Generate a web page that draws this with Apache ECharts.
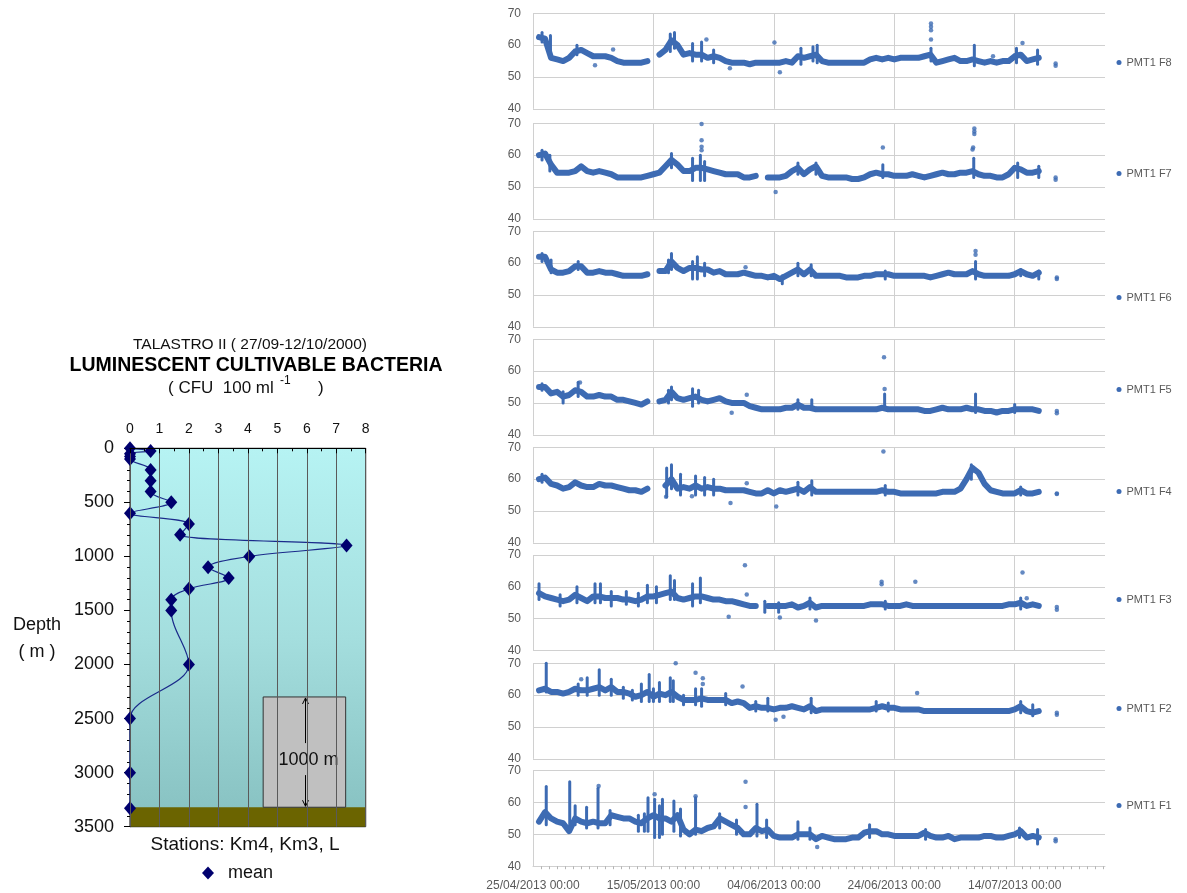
<!DOCTYPE html>
<html><head><meta charset="utf-8">
<script src="https://cdn.jsdelivr.net/npm/echarts@6/dist/echarts.min.js"></script>
<style>html,body{margin:0;padding:0;background:#fff}#c{width:1187px;height:893px}</style>
</head><body><div id="c"></div>
<script>
// ---------- Left chart: luminescent cultivable bacteria profile ----------
const depth = [0, 25, 50, 75, 100, 200, 300, 400, 500, 600, 700, 800, 900, 1000, 1100, 1200, 1300, 1400, 1500, 2000, 2500, 3000, 3330];
const cfu   = [0, 0.7, 0, 0, 0, 0.7, 0.7, 0.7, 1.4, 0, 2.0, 1.7, 7.35, 4.05, 2.65, 3.35, 2.0, 1.4, 1.4, 2.0, 0, 0, 0];
const seabed = [3320, 3500];              // depth range of sea floor band
const scaleBox = [4.52, 7.32, 2300, 3320]; // x0, x1, depthTop, depthBottom of the 1000 m scale box
const scaleLabel = '1000 m';

// ---------- Right chart: PMT1 F1..F8 daily values (index = day since 25/04/2013) ----------
const dateLabels = ['25/04/2013 00:00', '15/05/2013 00:00', '04/06/2013 00:00', '24/06/2013 00:00', '14/07/2013 00:00'];
const seriesNames = ['PMT1 F8', 'PMT1 F7', 'PMT1 F6', 'PMT1 F5', 'PMT1 F4', 'PMT1 F3', 'PMT1 F2', 'PMT1 F1'];

const f8 = [null,62.5,62,56,55.5,55,56,58,58.5,57.5,
 56.5,56.5,56.5,56,55,54.5,54.5,54.5,54.5,55,
 null,57,58.5,61.5,60,57,57.5,57,57,56,
 56.5,56,55,54.5,54.5,54.5,54,54.5,54.5,54.5,
 54.5,54.5,55,54.5,56.5,56,56.5,57,55,54.5,
 54.5,54.5,54.5,54.5,54.5,54.5,55.5,56,55.5,56,
 55.5,56,56,56,56,56.5,57,54.5,55,55.5,
 56,55,55,55.5,55,54.5,55,54.5,55,55,
 56.5,57,55,55.5,56];
const f7 = [null,60,60.5,57,54.5,54.5,54.5,55,56.5,55,
 54.5,55,54.5,54,53,53,53,53,53,53.5,
 54,54.5,56.5,58.5,57,55,55,56,56,55.5,
 55,54.5,54,54,54,53,53,53.5,null,53,
 53,53,53.5,55,56,54,55.5,56.5,53.5,53,
 53,53,53,52.5,52.5,53,54,54.5,54,54,
 53.5,53.5,53.5,54,53.5,53,53.5,54,54.5,54,
 54,54.5,54.5,55,54,53.5,53.5,53,53,54,
 56,55.5,54.5,54.5,55];
const f6 = [null,62,62,58,57,57,57.5,59,59,57,
 57,57.5,57,57,56.5,56,56,56,56,56.5,
 null,57.5,57.5,60.5,58.5,57.5,58.5,58.5,58,58,
 57,57.5,56.5,56.5,56.5,57,56.5,56,56,55.5,
 56,55,56,57,58,56.5,58,56,56,56,
 56,56,55.5,55.5,55.5,56,56,56.5,56.5,56.5,
 56,56,56,56,56,56,55.5,56,56.5,57,
 56.5,56.5,56.5,57.5,56.5,56,56,56,56,56,
 56.5,57.5,56.5,56,57];
const f5 = [null,55,55,53,53.5,52,52.5,54,53.5,52,
 52,52.5,52,52,51,51,50.5,50,49.5,50.5,
 null,50.5,51,53.5,51.5,51,51.5,52,51,50.5,
 51,51.5,50.5,50,50,50,49,48.5,48,48,
 48,48,48.5,48.5,49.5,48.5,48.5,48,48,48,
 48,48,48,48,48,48,48,48,48.5,48,
 48,48,48,48,48,47.5,47.5,48,48.5,48,
 48,48,48.5,48,48,47.5,47.5,47,47.5,47.5,
 48,48,48,48,47.5];
const f4 = [null,60,60.5,58.5,58,57,57.5,59,58,57.5,
 57.5,58.5,58,58,57.5,57,56.5,56.5,56,57,
 null,null,58,60,57,57.5,57,58,57,57.5,
 57,57,56.5,56.5,56.5,56.5,56,55.5,55.5,56.5,
 55.5,56.5,56,56.5,57,56,57.5,56,56,56,
 56,56,56,56,56,56,56,56,56.5,56,
 56,55.5,55.5,55.5,55.5,55.5,55.5,55.5,56,56,
 56,57,60,63.5,62,58.5,56.5,56,55.5,55.5,
 55.5,56.5,55.5,55.5,56];
const f3 = [null,58,57,56.5,56,55.5,56,57.5,56.5,55.5,
 57,57,56.5,56.5,56.5,56,56,55.5,56,57,
 57,57.5,58,58.5,56.5,56,56.5,57,57,56.5,
 56,56,55.5,55.5,55,54.5,54,54,null,54,
 54,54,54,54.5,53.5,54,55,53.5,54,54,
 54,54,54,54,54,54,54.5,54.5,54.5,54,
 54,54,54.5,54,54,54,54,54,54,54,
 54,54,54,54,54,54,54,54,54,54.5,
 54.5,55,54,54.5,54];
const f2 = [null,61.5,62,61,61,60.5,61,62,61.5,61.5,
 62,62.5,61.5,62.5,61,61,60.5,59.5,60,61,
 59.5,60.5,60,61,59.5,58.5,58.5,58.5,59,58.5,
 58.5,58.5,58.5,57.5,58,57.5,56,56.5,56,56,
 55.5,56,56,56.5,56,55.5,56.5,55,55.5,55.5,
 55.5,55.5,55.5,55.5,55.5,55.5,55.5,56,56.5,56,
 56,55.5,55.5,55.5,55.5,55,55,55,55,55,
 55,55,55,55,55,55,55,55,55,55,
 55.5,56.5,55,54.5,55];
const f1 = [null,54,57,55,54,53.5,51,55,54,53.5,
 54,53.5,53.5,56,55.5,55,55,54,53.5,55,
 56,55,55,54,56,51.5,50,51.5,51,52,
 52.5,55,54,53,52,50,50,52,51,51.5,
 49.5,49,49,49,50,50,50,48.5,49.5,49,
 48.5,48.5,48.5,49,49,50.5,51,51,50,50,
 49.5,49.5,49.5,49.5,49.5,50.5,49.5,49,49,49.5,
 48.5,49,49,49,49,49.5,49.5,49,49,49.5,
 50,51,49,49.5,49];

// vertical bursts [day, low, high]
const f8Spk = [[1.5,61,64],[2.9,56,63],[7.3,57,60],[22.8,58,63.5],[23.5,59,64],[26.5,55,60.5],[28,55,61],[30,54.5,58.5],[44.5,54,59],[46.5,55,59.5],[47.2,54.5,60],[66.1,55,59],[73.3,53.5,60],[80.3,54.5,59],[83.8,54,58.5]];
const f7Spk = [[1.5,58.5,61.5],[2.8,55,60],[23,56,60.5],[26.5,52,59],[27.8,52,60],[28.5,52,58],[44,54,57.5],[47,54,57.5],[58.1,53,57],[73.2,53,59],[80.5,53,57.5],[84,53,56.5]];
const f6Spk = [[1.5,60.5,63],[3,57,61],[7.5,58,60.5],[22.5,57,61],[23,58,63],[26.5,55,60.5],[27.3,55,62],[28.5,56,60],[41.4,53.5,56],[44,56,60],[46.2,56,59.5],[58.5,55,57.5],[73.5,55,60.5],[81,56,58],[84,55,57.5]];
const f5Spk = [[1.5,54,56],[5,50,53.5],[7.5,52,56.5],[22.5,50,54],[23,51,55],[26.5,49,54.5],[27.5,50,54],[44,48,51],[46.3,48,51],[58.4,48,52.8],[73.5,47,52.8],[80,47,49.5]];
const f4Spk = [[1.5,59,61.5],[22.2,54.5,63.5],[23,57,64.5],[24.5,55,61.5],[27,55,61],[28.5,55,60.5],[30,55,60],[44,55,59],[46.3,55,59.5],[58.5,55,58],[72.8,60,64.5],[81,55,57.5]];
const f3Spk = [[1,56,61],[4.5,54,57.5],[7.3,55,60],[10.3,55,61],[11.2,55,61],[13,54,58.5],[15.5,54.5,58.5],[17.5,54,58],[19,55,60.5],[20.5,55,60],[22.8,56,63.5],[23.5,56,62],[26.5,54,61],[27.8,55,62.8],[38.5,52,55.5],[40.8,52,55],[46,53,56.5],[58.5,53,55.5],[81,53,56.5]];
const f2Spk = [[2.2,61,70],[7.5,60,63.5],[9,60,65.5],[11,60,68],[13,60,65],[15,59,62.5],[16.5,58.5,61.5],[18,58,63.5],[19.3,58,66.5],[20,58,62],[21,58,64],[22.8,58,65.5],[23.3,58,64.5],[25,57,60],[27,57,62],[28,56.5,62],[32,57,60.5],[37,55,58],[39,55,59],[46.2,54.5,59],[57,55,58],[59,55,57.5],[81,54.5,58],[83,53.5,57]];
const f1Spk = [[2.2,53,65],[6.1,52,66.5],[7,53,59],[8.9,52,58.5],[10.8,52,64.5],[12.8,53,57.5],[17.5,51,56],[18.5,51,56.5],[19.1,51,61.5],[20.2,49,61],[21,49,59],[21.5,50,61],[23.4,51,60.5],[24.5,49.5,58],[27,50,61.5],[31,52,56.5],[33.8,50,54.5],[37.2,49.5,59.5],[38.8,49,54.5],[44,48.5,54],[46,48.5,52],[55.9,49,53],[65.2,48.5,51.5],[80.8,49,52],[83.8,47,51.5]];

// isolated points [day, value]
const f8Dots = [[10.3,53.7],[13.3,58.6],[28.8,61.8],[32.7,52.7],[40.1,60.8],[41,51.5],[66.1,66.8],[66.1,65.8],[66.1,64.7],[66.1,61.8],[76.4,56.5],[81.3,60.7],[86.8,54.2],[86.8,53.5]];
const f7Dots = [[28,69.8],[28,64.7],[28,62.6],[28,61.5],[40.3,48.4],[58.1,62.4],[73.3,68.4],[73.3,67.4],[73.3,66.6],[73.1,62.4],[73,61.8],[86.8,53],[86.8,52.3]];
const f6Dots = [[35.3,58.7],[73.5,63.8],[73.5,62.6],[87,55.5],[87,55]];
const f5Dots = [[7.8,56.4],[33,46.9],[35.5,52.6],[58.4,54.4],[58.3,64.4],[87,47.5],[87,46.8]];
const f4Dots = [[22.1,54.5],[26.4,54.6],[32.8,52.5],[35.5,58.7],[40.4,51.4],[58.2,68.7],[87,55.5],[87,55.3]];
const f3Dots = [[32.5,50.6],[35.2,66.8],[35.5,57.6],[41,50.4],[47,49.4],[57.9,61.6],[57.9,60.8],[63.5,61.6],[81.3,64.5],[82,56.4],[87,53.7],[87,52.8]];
const f2Dots = [[8,65],[23.7,70],[27,67],[28.2,65.3],[28.2,63.5],[34.8,62.7],[40.3,52.3],[41.6,53.2],[63.8,60.7],[87,54.5],[87,53.8]];
const f1Dots = [[10.9,65.2],[20.2,62.6],[27,62],[35.3,66.5],[35.3,58.6],[47.2,46],[86.8,48.5],[86.8,47.8]];

const panelVals = [f8, f7, f6, f5, f4, f3, f2, f1];
const panelSpk  = [f8Spk, f7Spk, f6Spk, f5Spk, f4Spk, f3Spk, f2Spk, f1Spk];
const panelDots = [f8Dots, f7Dots, f6Dots, f5Dots, f4Dots, f3Dots, f2Dots, f1Dots];

// ---------- layout ----------
const FONT = '"Liberation Sans", Arial, sans-serif';
const BLUE = '#3d6bb3';
const GRIDC = '#d0d0d0';
const TXT = '#595959';
const panelTops = [13.3, 123.3, 231.3, 339.3, 447.3, 555, 663.3, 770.7];
const legendY = [62, 173, 297, 389, 491, 599, 708, 805];
const PANEL_H = 95.5;

const chart = echarts.init(document.getElementById('c'), null, {renderer: 'canvas'});

const grids = [{
  left: 130, top: 448.3, width: 235.7, height: 378.4, show: true,
  borderColor: '#000', borderWidth: 1,
  backgroundColor: new echarts.graphic.LinearGradient(0, 0, 0, 1, [
    {offset: 0, color: '#b6f3f3'}, {offset: 0.5, color: '#a4dede'}, {offset: 1, color: '#86c0c0'}])
}];
const xAxes = [{
  gridIndex: 0, type: 'value', position: 'top', min: 0, max: 8, interval: 1, z: 5,
  axisLine: {show: true, lineStyle: {color: '#000', width: 1}},
  axisTick: {show: true, inside: true, length: 5, lineStyle: {color: '#000'}},
  minorTick: {show: true, splitNumber: 2, length: 3, lineStyle: {color: '#000'}},
  axisLabel: {fontSize: 14, color: '#111', margin: 12, fontFamily: FONT},
  splitLine: {show: true, lineStyle: {color: '#5a5a5a', width: 1}}
}];
const yAxes = [{
  gridIndex: 0, type: 'value', inverse: true, min: 0, max: 3500, interval: 500,
  axisLine: {show: true, lineStyle: {color: '#000', width: 1}},
  axisTick: {show: true, length: 6, lineStyle: {color: '#000'}},
  minorTick: {show: true, splitNumber: 5, length: 3, lineStyle: {color: '#000'}},
  axisLabel: {fontSize: 18, color: '#111', margin: 16, fontFamily: FONT, formatter: v => String(v)},
  splitLine: {show: false}
}];

const series = [{
  type: 'custom', xAxisIndex: 0, yAxisIndex: 0, z: 1, silent: true, clip: false,
  data: [[0, 0]],
  renderItem: (params, api) => {
    const a = api.coord([0, seabed[0]]), b = api.coord([8, seabed[1]]);
    const c = api.coord([scaleBox[0], scaleBox[2]]), d = api.coord([scaleBox[1], scaleBox[3]]);
    const ax = Math.round((c[0] + d[0]) / 2) + 0.5 + 1;
    const yTop = c[1], yBot = d[1];
    const yMid = (yTop + yBot) / 2 + 8;
    return {type: 'group', children: [
      {type: 'rect', shape: {x: a[0] + 1, y: a[1], width: b[0] - a[0] - 1, height: b[1] - a[1]}, style: {fill: '#6b6400'}},
      {type: 'rect', shape: {x: c[0], y: c[1], width: d[0] - c[0], height: d[1] - c[1]}, style: {fill: '#c0c0c0', stroke: '#333', lineWidth: 1}},
      {type: 'line', shape: {x1: ax, y1: yTop + 1, x2: ax, y2: yMid - 17}, style: {stroke: '#000', lineWidth: 1}},
      {type: 'line', shape: {x1: ax, y1: yMid + 15, x2: ax, y2: yBot - 1}, style: {stroke: '#000', lineWidth: 1}},
      {type: 'polyline', shape: {points: [[ax - 3, yTop + 7], [ax, yTop + 1], [ax + 3, yTop + 7]]}, style: {stroke: '#000', fill: null, lineWidth: 1}},
      {type: 'polyline', shape: {points: [[ax - 3, yBot - 7], [ax, yBot - 1], [ax + 3, yBot - 7]]}, style: {stroke: '#000', fill: null, lineWidth: 1}},
      {type: 'text', x: ax + 3, y: yMid, style: {text: scaleLabel, font: '18px ' + FONT, fill: '#111', align: 'center', verticalAlign: 'middle'}}
    ]};
  }
}, {
  type: 'line', name: 'mean', xAxisIndex: 0, yAxisIndex: 0, z: 4,
  data: cfu.map((v, i) => [v, depth[i]]),
  smooth: 0.35, symbol: 'diamond', symbolSize: [12, 14], showSymbol: true,
  itemStyle: {color: '#00006e'}, lineStyle: {color: '#1a2a8a', width: 1.2}
}];

const legends = [{
  left: 197, top: 859, itemWidth: 12, itemHeight: 13, selectedMode: false,
  data: [{name: 'mean', icon: 'diamond'}],
  textStyle: {fontSize: 18, color: '#111', fontFamily: FONT, padding: [0, 0, 0, 9]}
}];

panelVals.forEach((vals, k) => {
  const gi = k + 1;
  const isBottom = k === panelVals.length - 1;
  grids.push({left: 533, top: panelTops[k], width: 572, height: PANEL_H});
  xAxes.push({
    gridIndex: gi, type: 'value', min: 0, max: 95, interval: 20,
    axisLine: {show: isBottom, lineStyle: {color: GRIDC}},
    axisTick: {show: false},
    minorTick: {show: isBottom, splitNumber: 15, length: 3, lineStyle: {color: '#b5b5b5'}},
    axisLabel: {show: isBottom, fontSize: 12, color: TXT, margin: 13, fontFamily: FONT, showMaxLabel: false,
      formatter: v => { const q = v / 20; return (Number.isInteger(q) && q < dateLabels.length) ? dateLabels[q] : ''; }},
    splitLine: {show: true, showMaxLine: false, lineStyle: {color: GRIDC, width: 1}}
  });
  yAxes.push({
    gridIndex: gi, type: 'value', min: 40, max: 70, interval: 10,
    axisLine: {show: false}, axisTick: {show: false},
    axisLabel: {fontSize: 12, color: TXT, margin: 12, fontFamily: FONT},
    splitLine: {show: true, lineStyle: {color: GRIDC, width: 1}}
  });
  const name = seriesNames[k];
  series.push({
    type: 'line', name, xAxisIndex: gi, yAxisIndex: gi, silent: true,
    data: vals.map((v, d) => [d, v === null ? '-' : v]),
    showSymbol: false, symbol: 'circle', connectNulls: false,
    itemStyle: {color: BLUE},
    lineStyle: {color: BLUE, width: 6, cap: 'round', join: 'round'}
  });
  series.push({
    type: 'custom', name, xAxisIndex: gi, yAxisIndex: gi, silent: true,
    itemStyle: {color: BLUE},
    data: panelSpk[k],
    renderItem: (params, api) => {
      const p1 = api.coord([api.value(0), api.value(1)]);
      const p2 = api.coord([api.value(0), api.value(2)]);
      return {type: 'line', shape: {x1: p1[0], y1: p1[1], x2: p2[0], y2: p2[1]},
        style: {stroke: BLUE, lineWidth: 3, lineCap: 'round'}};
    }
  });
  series.push({
    type: 'scatter', name, xAxisIndex: gi, yAxisIndex: gi, silent: true,
    data: panelDots[k], symbol: 'circle', symbolSize: 4.5, itemStyle: {color: BLUE}
  });
  legends.push({
    left: 1111.5, top: legendY[k] - 10, itemWidth: 5, itemHeight: 5, selectedMode: false,
    data: [{name, icon: 'circle'}],
    textStyle: {fontSize: 11, color: TXT, fontFamily: FONT}
  });
});

const graphics = [
  {type: 'text', x: 250, y: 345, style: {text: 'TALASTRO II ( 27/09-12/10/2000)', font: '15.5px ' + FONT, fill: '#111', align: 'center', verticalAlign: 'middle'}},
  {type: 'text', x: 256, y: 366, style: {text: 'LUMINESCENT CULTIVABLE BACTERIA', font: 'bold 19.5px ' + FONT, fill: '#000', align: 'center', verticalAlign: 'middle'}},
  {type: 'text', x: 168, y: 388, style: {text: '( CFU  100 ml', font: '17px ' + FONT, fill: '#111', align: 'left', verticalAlign: 'middle'}},
  {type: 'text', x: 280, y: 381, style: {text: '-1', font: '12px ' + FONT, fill: '#111', align: 'left', verticalAlign: 'middle'}},
  {type: 'text', x: 318, y: 388, style: {text: ')', font: '17px ' + FONT, fill: '#111', align: 'left', verticalAlign: 'middle'}},
  {type: 'text', x: 37, y: 625, style: {text: 'Depth', font: '18px ' + FONT, fill: '#111', align: 'center', verticalAlign: 'middle'}},
  {type: 'text', x: 37, y: 652, style: {text: '( m )', font: '18px ' + FONT, fill: '#111', align: 'center', verticalAlign: 'middle'}},
  {type: 'text', x: 245, y: 845, style: {text: 'Stations: Km4, Km3, L', font: '19px ' + FONT, fill: '#111', align: 'center', verticalAlign: 'middle'}}
];

chart.setOption({
  animation: false,
  textStyle: {fontFamily: FONT},
  grid: grids, xAxis: xAxes, yAxis: yAxes, series, legend: legends, graphic: graphics
});
</script>
</body></html>
